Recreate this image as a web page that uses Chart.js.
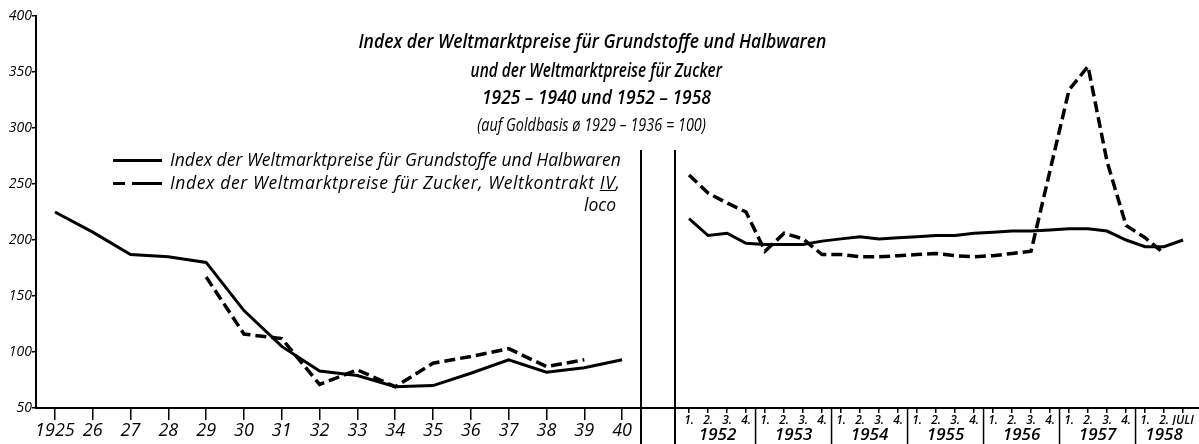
<!DOCTYPE html>
<html>
<head>
<meta charset="utf-8">
<script src="https://cdn.jsdelivr.net/npm/chart.js@4.4.1/dist/chart.umd.min.js"></script>
<style>
  body { margin: 0; background: #fff; }
  #wrap { position: relative; width: 1199px; height: 444px; overflow: hidden;
          font-family: "Open Sans", sans-serif; font-style: italic; color: #000; }
  #left { position: absolute; left: 0; top: 0; }
  #right { position: absolute; left: 660px; top: 0; }
  .t { position: absolute; left: 0; width: 1184px; text-align: center; white-space: nowrap; font-weight: 600; }
  .t span { display: inline-block; transform-origin: center; }
  .lg { position: absolute; white-space: nowrap; font-size: 17.5px; }
  .smp { position: absolute; height: 0; }
</style>
</head>
<body>
<div id="wrap">
  <canvas id="left" width="660" height="444"></canvas>
  <canvas id="right" width="539" height="444"></canvas>

  <div class="t" style="top:27px;font-size:20px;"><span style="transform:scaleX(0.875)">Index der Weltmarktpreise für Grundstoffe und Halbwaren</span></div>
  <div class="t" style="top:56px;font-size:20px;left:4px;"><span style="transform:scaleX(0.77)">und der Weltmarktpreise für Zucker</span></div>
  <div class="t" style="top:84px;font-size:19px;left:4px;"><span style="transform:scaleX(0.92)">1925 – 1940 und 1952 – 1958</span></div>
  <div class="t" style="top:111px;font-size:19px;font-weight:400;"><span style="transform:scaleX(0.76)">(auf Goldbasis ø 1929 – 1936 = 100)</span></div>

  <div class="smp" style="left:113px;top:159px;width:49px;border-top:3px solid #000;"></div>
  <div class="lg" style="left:170px;top:147px;">Index der Weltmarktpreise für Grundstoffe und Halbwaren</div>
  <div class="smp" style="left:113px;top:182px;width:12px;border-top:3px solid #000;"></div>
  <div class="smp" style="left:132px;top:182px;width:30px;border-top:3px solid #000;"></div>
  <div class="lg" style="left:170px;top:170px;letter-spacing:0.6px;">Index der Weltmarktpreise für Zucker, Weltkontrakt <u>IV</u>,</div>
  <div class="lg" style="left:584px;top:192px;">loco</div>
</div>

<script>
// Jahreswerte 1925 - 1940
const leftYears = ['1925', '26', '27', '28', '29', '30', '31', '32', '33', '34', '35', '36', '37', '38', '39', '40'];
const leftRaw = [225, 207, 187, 185, 180, 137, 105, 83, 79, 69, 70, 81, 93, 82, 86, 93];
const leftSugar = [null, null, null, null, 167, 116, 112, 71, 84, 69, 90, 96, 103, 87, 93, null];

// Quartalswerte 1952 - Juli 1958
const quarterLabels = ['1.', '2.', '3.', '4.', '1.', '2.', '3.', '4.', '1.', '2.', '3.', '4.',
  '1.', '2.', '3.', '4.', '1.', '2.', '3.', '4.', '1.', '2.', '3.', '4.', '1.', '2.', 'JULI'];
const yearLabels = ['1952', '1953', '1954', '1955', '1956', '1957', '1958'];
const yearCenters = [1.5, 5.5, 9.5, 13.5, 17.5, 21.5, 25];
const yearBounds = [3.5, 7.5, 11.5, 15.5, 19.5, 23.5];
const rightRaw = [219, 204, 206, 197, 196, 196, 196, 199, 201, 203, 201, 202, 203, 204, 204, 206,
  207, 208, 208, 209, 210, 210, 208, 200, 194, 194, 200];
const rightSugar = [258, 242, 233, 225, 190, 206, 201, 187, 187, 185, 185, 186, 187, 188, 186, 185,
  186, 188, 190, 262, 334, 355, 270, 213, 202, 188, null];

const FONT = '"Open Sans", sans-serif';

// Rahmenlinien (senkrechte Trennlinie, durchgehende Achse)
const leftFrame = {
  id: 'leftFrame',
  afterDraw(chart) {
    const ctx = chart.ctx, a = chart.chartArea;
    ctx.save();
    ctx.strokeStyle = '#000';
    ctx.lineWidth = 2;
    ctx.beginPath();
    ctx.moveTo(a.right, 150);
    ctx.lineTo(a.right, chart.height);
    ctx.moveTo(a.right, a.bottom);
    ctx.lineTo(chart.width, a.bottom);
    ctx.stroke();
    ctx.restore();
  }
};

const rightFrame = {
  id: 'rightFrame',
  afterDraw(chart) {
    const ctx = chart.ctx, a = chart.chartArea;
    const xs = chart.scales.x;
    ctx.save();
    ctx.strokeStyle = '#000';
    ctx.lineWidth = 2;
    ctx.beginPath();
    ctx.moveTo(a.left, 150);
    ctx.lineTo(a.left, chart.height);
    ctx.moveTo(0, a.bottom);
    ctx.lineTo(a.left, a.bottom);
    ctx.stroke();
    ctx.lineWidth = 1.5;
    ctx.beginPath();
    yearBounds.forEach(b => {
      const px = xs.getPixelForValue(b);
      ctx.moveTo(px, a.bottom);
      ctx.lineTo(px, chart.height);
    });
    ctx.stroke();
    ctx.restore();
  }
};

const solidStyle = { borderColor: '#000', borderWidth: 3, pointRadius: 0, tension: 0, fill: false };
const dashStyle = { borderColor: '#000', borderWidth: 3.5, borderDash: [11, 5], pointRadius: 0, tension: 0, fill: false };

new Chart(document.getElementById('left'), {
  type: 'line',
  data: {
    labels: leftYears,
    datasets: [
      Object.assign({ label: 'Grundstoffe und Halbwaren', data: leftRaw }, solidStyle),
      Object.assign({ label: 'Zucker', data: leftSugar }, dashStyle)
    ]
  },
  options: {
    responsive: false,
    animation: false,
    devicePixelRatio: 1,
    layout: { padding: { top: 16, right: 19, left: 0, bottom: 0 } },
    plugins: { legend: { display: false }, tooltip: { enabled: false } },
    scales: {
      x: {
        offset: true,
        grid: { offset: false, drawOnChartArea: false, tickLength: 12, color: '#000', lineWidth: 1.5 },
        border: { display: true, color: '#000', width: 2 },
        ticks: { color: '#000', padding: 0, maxRotation: 0, autoSkip: false,
                 font: { family: FONT, size: 18, style: 'italic' } },
        afterFit(s) { s.height = 36; }
      },
      y: {
        min: 50, max: 400,
        grid: { drawOnChartArea: false, tickLength: 4, color: '#000', lineWidth: 1.5 },
        border: { display: true, color: '#000', width: 2 },
        ticks: { stepSize: 50, color: '#000', padding: 0,
                 font: { family: FONT, size: 14, style: 'italic' } },
        afterFit(s) { s.width = 36; }
      }
    }
  },
  plugins: [leftFrame]
});

new Chart(document.getElementById('right'), {
  type: 'line',
  data: {
    datasets: [
      Object.assign({ label: 'Grundstoffe und Halbwaren', data: rightRaw.map((v, i) => ({ x: i, y: v })) }, solidStyle),
      Object.assign({ label: 'Zucker', data: rightSugar.map((v, i) => ({ x: i, y: v })) }, dashStyle)
    ]
  },
  options: {
    responsive: false,
    animation: false,
    devicePixelRatio: 1,
    layout: { padding: { top: 16, right: 0, left: 15, bottom: 0 } },
    plugins: { legend: { display: false }, tooltip: { enabled: false } },
    scales: {
      x: {
        type: 'linear', position: 'bottom', weight: 0,
        min: -0.74, max: 26.84,
        afterBuildTicks(s) { s.ticks = quarterLabels.map((q, i) => ({ value: i })); },
        grid: { drawOnChartArea: false, tickLength: 5, color: '#000', lineWidth: 1.5 },
        border: { display: true, color: '#000', width: 2 },
        ticks: { color: '#000', padding: 0, maxRotation: 0, autoSkip: false,
                 font: { family: FONT, size: 12, style: 'italic', weight: '600' },
                 callback: (v, i) => quarterLabels[i] },
        afterFit(s) { s.height = 17; }
      },
      xYear: {
        type: 'linear', position: 'bottom', weight: 1,
        min: -0.74, max: 26.84,
        afterBuildTicks(s) { s.ticks = yearCenters.map(c => ({ value: c })); },
        grid: { display: false, drawTicks: false, tickLength: 0 },
        border: { display: false },
        ticks: { color: '#000', padding: 0, maxRotation: 0, autoSkip: false,
                 font: { family: FONT, size: 17, style: 'italic', weight: '600' },
                 callback: (v, i) => yearLabels[i] },
        afterFit(s) { s.height = 19; }
      },
      y: { display: false, min: 50, max: 400 }
    }
  },
  plugins: [rightFrame]
});
</script>
</body>
</html>
